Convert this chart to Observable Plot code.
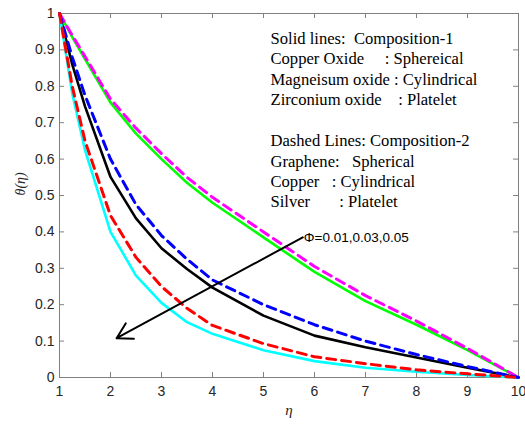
<!DOCTYPE html>
<html>
<head>
<meta charset="utf-8">
<script src="https://cdn.jsdelivr.net/npm/d3@7"></script>
<script src="https://cdn.jsdelivr.net/npm/@observablehq/plot@0.6"></script>
<style>
  html, body { margin: 0; padding: 0; background: #fff; }
  svg text { white-space: pre; }
</style>
</head>
<body>
<div id="chart"></div>
<script>
const eta = [1, 1.25, 1.5, 2, 2.5, 3, 3.5, 4, 5, 6, 7, 8, 9, 10];
const greenSolid   = [1, 0.935, 0.875, 0.755, 0.67, 0.6, 0.535, 0.48, 0.385, 0.29, 0.21, 0.145, 0.075, 0];
const magentaDash  = [1, 0.94, 0.882, 0.765, 0.685, 0.615, 0.55, 0.495, 0.4, 0.305, 0.225, 0.155, 0.08, 0];
const blackSolid   = [1, 0.86, 0.745, 0.551, 0.437, 0.355, 0.298, 0.247, 0.17, 0.115, 0.083, 0.055, 0.027, 0];
const blueDash     = [1, 0.88, 0.775, 0.6, 0.475, 0.39, 0.325, 0.268, 0.2, 0.145, 0.1, 0.063, 0.03, 0];
const redDash      = [1, 0.8, 0.65, 0.445, 0.33, 0.25, 0.19, 0.143, 0.093, 0.057, 0.038, 0.021, 0.01, 0];
const cyanSolid    = [1, 0.78, 0.625, 0.4, 0.28, 0.205, 0.152, 0.12, 0.075, 0.045, 0.027, 0.016, 0.007, 0];

const xTicks = [1, 2, 3, 4, 5, 6, 7, 8, 9, 10];
const yTicks = [0, 0.1, 0.2, 0.3, 0.4, 0.5, 0.6, 0.7, 0.8, 0.9, 1];

const seriesList = [
  {name: "green", values: greenSolid, color: "#00ff00", dash: null},
  {name: "black", values: blackSolid, color: "#000000", dash: null},
  {name: "cyan", values: cyanSolid, color: "#00ffff", dash: null},
  {name: "magenta", values: magentaDash, color: "#ff00ff", dash: "9,6"},
  {name: "blue", values: blueDash, color: "#0000ff", dash: "9,6"},
  {name: "red", values: redDash, color: "#ff0000", dash: "9,6"}
];

const nb = (s) => s.replace(/ /g, "\u00A0");
const legendLines = [
  "Solid lines:  Composition-1",
  "Copper Oxide     : Sphereical",
  "Magneisum oxide : Cylindrical",
  "Zirconium oxide    : Platelet",
  "",
  "Dashed Lines: Composition-2",
  "Graphene:   Spherical",
  "Copper   : Cylindrical",
  "Silver       : Platelet"
];

const arrowData = [{x1: 5.77, y1: 0.385, x2: 2.12, y2: 0.108}];
const phiLabel = "\u03A6=0.01,0.03,0.05";

const W = 525, H = 427, mL = 59, mR = 7, mT = 13, mB = 50;
const fw = W - mL - mR, fh = H - mT - mB;
const axisGray = "#808080";
const tickLen = 5;

const lineMarks = seriesList.map(s =>
  Plot.line(eta.map((x, i) => ({x, y: s.values[i]})), {
    x: "x", y: "y", stroke: s.color, strokeWidth: s.dash ? 3 : 2.6,
    strokeDasharray: s.dash, strokeLinejoin: "round"
  })
);

const chart = Plot.plot({
  width: W, height: H,
  marginLeft: mL, marginRight: mR, marginTop: mT, marginBottom: mB,
  style: {fontFamily: "'Liberation Sans', Arial, sans-serif", fontSize: "14px", background: "#fff", color: "#262626"},
  x: {domain: [1, 10]},
  y: {domain: [0, 1]},
  marks: [
    Plot.frame({stroke: axisGray, strokeWidth: 1}),
    Plot.tickX(xTicks, {x: d => d, stroke: axisGray, insetTop: fh - tickLen}),
    Plot.tickX(xTicks, {x: d => d, stroke: axisGray, insetBottom: fh - tickLen}),
    Plot.tickY(yTicks, {y: d => d, stroke: axisGray, insetRight: fw - tickLen}),
    Plot.tickY(yTicks, {y: d => d, stroke: axisGray, insetLeft: fw - tickLen}),
    Plot.axisX(xTicks, {tickSize: 0, tickPadding: 9, fontSize: 14, fill: "#262626", label: null, tickFormat: d => String(d)}),
    Plot.axisY(yTicks, {tickSize: 0, tickPadding: 5, fontSize: 14, fill: "#262626", label: null, tickFormat: d => String(d)}),
    ...lineMarks,
    Plot.arrow(arrowData, {x1: "x1", y1: "y1", x2: "x2", y2: "y2", stroke: "#000", strokeWidth: 2, headLength: 13, bend: false}),
    Plot.text([phiLabel], {x: arrowData[0].x1, y: arrowData[0].y1, text: d => d, textAnchor: "start", dx: 1, fontSize: 13.5, fill: "#000"}),
    Plot.text([legendLines.map(nb).join("\n")], {
      frameAnchor: "top-left", dx: 211, dy: 16, text: d => d, textAnchor: "start", lineAnchor: "top",
      lineHeight: 1.23, fontSize: 16.6, fontFamily: "'Liberation Serif', 'Times New Roman', serif", fill: "#000"
    }),
    Plot.text(["\u03B8(\u03B7)"], {frameAnchor: "left", dx: -39, rotate: -90, text: d => d, fontSize: 14,
      fontStyle: "italic", fontFamily: "'Liberation Serif', 'Times New Roman', serif", fill: "#262626"}),
    Plot.text(["\u03B7"], {frameAnchor: "bottom", dy: 37, text: d => d, fontSize: 15,
      fontStyle: "italic", fontFamily: "'Liberation Serif', 'Times New Roman', serif", fill: "#262626"})
  ]
});
document.getElementById("chart").appendChild(chart);
</script>
</body>
</html>
